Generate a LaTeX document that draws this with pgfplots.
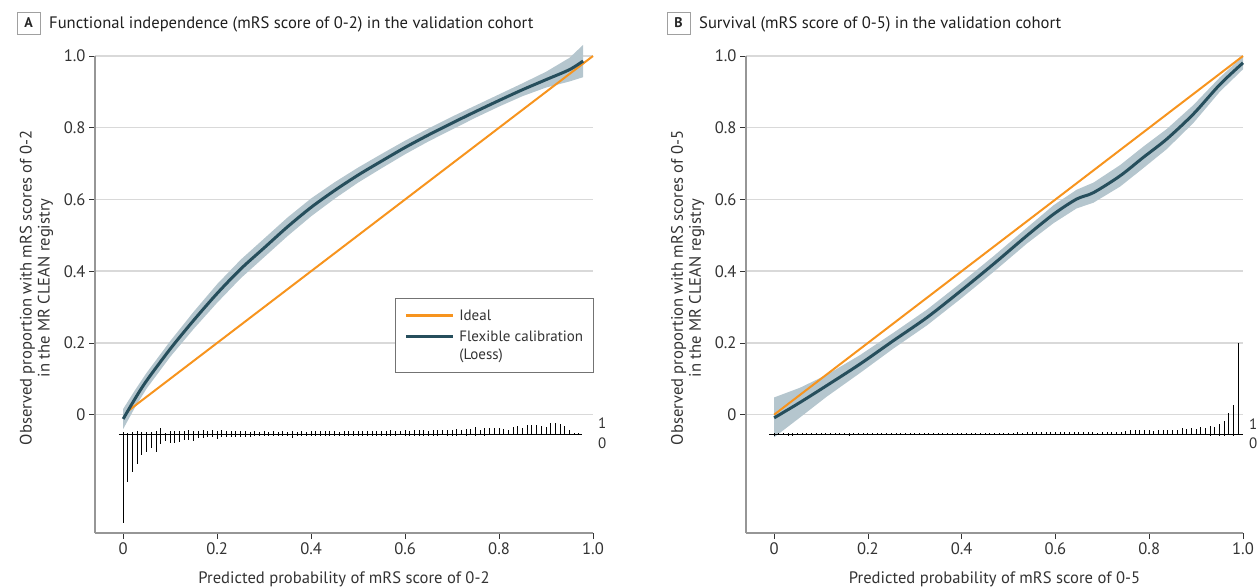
\documentclass[border=0pt]{standalone}
\usepackage{pgfplots}
\pgfplotsset{compat=1.18}
\usepackage{pgfplotstable}
\usepackage{fontspec}
\setmainfont{PT Sans}

\definecolor{idealc}{HTML}{F7941E}
\definecolor{curvec}{HTML}{264E5C}
\definecolor{bandc}{HTML}{B5C6CE}
\definecolor{gridc}{HTML}{D9D9D9}
\definecolor{axisc}{HTML}{969696}
\definecolor{textc}{HTML}{333333}
\definecolor{boxc}{HTML}{A0A0A0}

% Loess curve A
\pgfplotstableread{
x y
0.000 -0.012
0.025 0.044
0.050 0.095
0.100 0.183
0.150 0.263
0.200 0.338
0.250 0.406
0.300 0.465
0.350 0.524
0.400 0.578
0.450 0.625
0.500 0.668
0.550 0.707
0.600 0.745
0.650 0.780
0.700 0.813
0.750 0.845
0.800 0.876
0.850 0.906
0.900 0.934
0.950 0.962
0.979 0.986
}\curA

% confidence band A (upper edge forward, lower edge backward)
\pgfplotstableread{
x y
0.000 0.016
0.025 0.068
0.050 0.117
0.100 0.205
0.150 0.287
0.200 0.364
0.250 0.432
0.300 0.491
0.350 0.550
0.400 0.603
0.450 0.648
0.500 0.689
0.550 0.727
0.600 0.764
0.650 0.798
0.700 0.831
0.750 0.862
0.800 0.893
0.850 0.924
0.900 0.956
0.950 0.995
0.979 1.031
0.979 0.941
0.950 0.929
0.900 0.912
0.850 0.888
0.800 0.859
0.750 0.828
0.700 0.795
0.650 0.762
0.600 0.726
0.550 0.687
0.500 0.647
0.450 0.602
0.400 0.553
0.350 0.498
0.300 0.439
0.250 0.380
0.200 0.312
0.150 0.239
0.100 0.161
0.050 0.073
0.025 0.020
0.000 -0.040
}\bandA

% Loess curve B
\pgfplotstableread{
x y
0.000 -0.009
0.055 0.034
0.112 0.081
0.183 0.141
0.254 0.206
0.326 0.271
0.397 0.344
0.468 0.420
0.539 0.499
0.596 0.559
0.645 0.601
0.681 0.619
0.738 0.666
0.787 0.717
0.837 0.768
0.894 0.838
0.951 0.921
1.000 0.981
}\curB

% confidence band B
\pgfplotstableread{
x y
0.000 0.048
0.055 0.075
0.112 0.111
0.183 0.166
0.254 0.228
0.326 0.293
0.397 0.366
0.468 0.442
0.539 0.521
0.596 0.584
0.645 0.627
0.681 0.647
0.738 0.696
0.787 0.747
0.837 0.796
0.894 0.863
0.951 0.941
1.000 0.999
1.000 0.963
0.951 0.901
0.894 0.813
0.837 0.740
0.787 0.687
0.738 0.636
0.681 0.591
0.645 0.575
0.596 0.534
0.539 0.477
0.468 0.398
0.397 0.322
0.326 0.249
0.254 0.184
0.183 0.116
0.112 0.050
0.055 -0.008
0.000 -0.063
}\bandB

% spike histogram A: x, events (up), non-events (down)
\pgfplotstableread{
x up down
0.00 0.006 0.248
0.01 0.003 0.135
0.02 0.005 0.107
0.03 0.009 0.084
0.04 0.007 0.059
0.05 0.007 0.051
0.06 0.007 0.040
0.07 0.009 0.051
0.08 0.017 0.028
0.09 0.004 0.020
0.10 0.009 0.026
0.11 0.009 0.025
0.12 0.009 0.022
0.13 0.009 0.018
0.14 0.011 0.017
0.15 0.009 0.020
0.16 0.009 0.011
0.17 0.011 0.011
0.18 0.008 0.009
0.19 0.011 0.007
0.20 0.009 0.013
0.21 0.010 0.008
0.22 0.008 0.008
0.23 0.009 0.008
0.24 0.008 0.007
0.25 0.008 0.008
0.26 0.009 0.008
0.27 0.007 0.007
0.28 0.008 0.006
0.29 0.007 0.006
0.30 0.009 0.006
0.31 0.007 0.005
0.32 0.008 0.006
0.33 0.006 0.005
0.34 0.008 0.005
0.35 0.007 0.006
0.36 0.008 0.011
0.37 0.007 0.005
0.38 0.008 0.005
0.39 0.007 0.005
0.40 0.008 0.006
0.41 0.008 0.005
0.42 0.008 0.005
0.43 0.008 0.005
0.44 0.008 0.005
0.45 0.008 0.005
0.46 0.007 0.005
0.47 0.008 0.005
0.48 0.008 0.005
0.49 0.009 0.005
0.50 0.009 0.005
0.51 0.008 0.005
0.52 0.009 0.005
0.53 0.008 0.005
0.54 0.009 0.005
0.55 0.009 0.005
0.56 0.009 0.005
0.57 0.011 0.005
0.58 0.009 0.005
0.59 0.009 0.004
0.60 0.011 0.005
0.61 0.009 0.005
0.62 0.012 0.005
0.63 0.010 0.005
0.64 0.011 0.005
0.65 0.009 0.005
0.66 0.012 0.005
0.67 0.012 0.005
0.68 0.010 0.004
0.69 0.012 0.005
0.70 0.012 0.005
0.71 0.014 0.005
0.72 0.012 0.004
0.73 0.014 0.005
0.74 0.014 0.004
0.75 0.020 0.005
0.76 0.012 0.004
0.77 0.016 0.005
0.78 0.016 0.004
0.79 0.016 0.004
0.80 0.016 0.004
0.81 0.014 0.004
0.82 0.012 0.004
0.83 0.020 0.004
0.84 0.022 0.004
0.85 0.016 0.004
0.86 0.024 0.003
0.87 0.024 0.003
0.88 0.024 0.003
0.89 0.022 0.003
0.90 0.020 0.003
0.91 0.031 0.003
0.92 0.032 0.003
0.93 0.029 0.003
0.94 0.022 0.002
0.95 0.012 0.002
0.96 0.004 0.002
0.97 0.002 0.001
}\spkA

% spike histogram B
\pgfplotstableread{
x up down
0.00 0.002 0.006
0.01 0.002 0.004
0.02 0.002 0.004
0.03 0.002 0.005
0.04 0.002 0.006
0.05 0.002 0.004
0.06 0.003 0.004
0.07 0.002 0.004
0.08 0.002 0.004
0.09 0.002 0.003
0.10 0.002 0.004
0.11 0.002 0.004
0.12 0.002 0.004
0.13 0.003 0.004
0.14 0.002 0.004
0.15 0.002 0.004
0.16 0.003 0.006
0.17 0.002 0.004
0.18 0.002 0.004
0.19 0.003 0.004
0.20 0.002 0.004
0.21 0.003 0.004
0.22 0.002 0.004
0.23 0.003 0.004
0.24 0.002 0.004
0.25 0.003 0.004
0.26 0.003 0.004
0.27 0.002 0.004
0.28 0.003 0.004
0.29 0.003 0.004
0.30 0.003 0.004
0.31 0.003 0.004
0.32 0.003 0.004
0.33 0.003 0.004
0.34 0.003 0.004
0.35 0.003 0.004
0.36 0.003 0.004
0.37 0.003 0.004
0.38 0.003 0.004
0.39 0.003 0.004
0.40 0.004 0.004
0.41 0.003 0.004
0.42 0.004 0.004
0.43 0.003 0.004
0.44 0.004 0.004
0.45 0.004 0.004
0.46 0.004 0.004
0.47 0.004 0.004
0.48 0.004 0.004
0.49 0.004 0.004
0.50 0.004 0.004
0.51 0.004 0.004
0.52 0.005 0.004
0.53 0.004 0.004
0.54 0.005 0.004
0.55 0.005 0.004
0.56 0.006 0.004
0.57 0.005 0.004
0.58 0.006 0.004
0.59 0.006 0.004
0.60 0.006 0.004
0.61 0.005 0.004
0.62 0.006 0.004
0.63 0.006 0.004
0.64 0.006 0.004
0.65 0.006 0.004
0.66 0.005 0.004
0.67 0.007 0.004
0.68 0.006 0.004
0.69 0.004 0.004
0.70 0.006 0.004
0.71 0.006 0.004
0.72 0.006 0.004
0.73 0.006 0.004
0.74 0.006 0.004
0.75 0.009 0.004
0.76 0.010 0.004
0.77 0.010 0.004
0.78 0.010 0.004
0.79 0.010 0.004
0.80 0.012 0.004
0.81 0.008 0.004
0.82 0.010 0.004
0.83 0.012 0.004
0.84 0.010 0.004
0.85 0.012 0.004
0.86 0.012 0.004
0.87 0.017 0.004
0.88 0.014 0.004
0.89 0.018 0.004
0.90 0.014 0.004
0.91 0.020 0.004
0.92 0.018 0.004
0.93 0.023 0.005
0.94 0.020 0.004
0.95 0.028 0.005
0.96 0.037 0.005
0.97 0.058 0.004
0.98 0.082 0.005
0.99 0.253 0.004
}\spkB

\newcommand{\bigfont}{\fontsize{16.6}{18}\selectfont}
\newcommand{\legfont}{\fontsize{15}{17}\selectfont}

\pgfplotsset{
  calstyle/.style={
    scale only axis, height=477pt,
    xmin=-0.06, xmax=1.0, ymin=-0.33, ymax=1.0,
    axis x line*=bottom, axis y line*=left,
    axis line style={draw=axisc, line width=1.2pt, -},
    xtick={0,0.2,0.4,0.6,0.8,1}, xticklabels={0,0.2,0.4,0.6,0.8,1.0},
    ytick={0,0.2,0.4,0.6,0.8,1}, yticklabels={0,0.2,0.4,0.6,0.8,1.0},
    minor tick num=0,
    tick align=outside, major tick length=6pt,
    tick style={draw=black!80, line width=0.8pt},
    ymajorgrids, grid style={draw=gridc, line width=1.4pt},
    /pgf/number format/assume math mode=true,
    ticklabel style={font=\bigfont, text=textc},
    clip=false,
    label style={font=\bigfont, text=textc},
    xlabel style={at={(axis description cs:0.5,-0.1048)}, anchor=base},
    ylabel style={at={(axis description cs:-0.1175,0.514)}, anchor=center, align=center},
  },
  % overlay axis for the spike histograms: its y=0 is the baseline at -0.054
  spkaxis/.style={
    scale only axis, height=477pt, hide axis, clip=false,
    xmin=-0.06, xmax=1.0, ymin=-0.276, ymax=1.054,
  },
}

\begin{document}
\begin{tikzpicture}
\path[use as bounding box] (0pt,0pt) rectangle (1260pt,-587pt);

% ---------------- Panel A ----------------
\begin{axis}[calstyle, width=498pt, at={(95pt,-533pt)}, anchor=south west,
  xlabel={Predicted probability of mRS score of 0-2},
  ylabel={Observed proportion with mRS scores of 0-2\\in the MR CLEAN registry},
]
\addplot[fill=bandc, draw=none] table[x=x, y=y] {\bandA} -- cycle;
\addplot[idealc, line width=2pt] coordinates {(0.01,0.01) (1,1)};
\addplot[curvec, line width=3pt, smooth] table[x=x, y=y] {\curA};
% legend
\draw[draw=black!55, line width=0.8pt, fill=white] (axis cs:0.579,0.117) rectangle (axis cs:1.0,0.3235);
\draw[idealc, line width=2.5pt] (axis cs:0.602,0.276) -- (axis cs:0.702,0.276);
\draw[curvec, line width=2.5pt] (axis cs:0.602,0.2175) -- (axis cs:0.702,0.2175);
\node[anchor=west, inner sep=0pt, font=\legfont, text=textc] at (axis cs:0.715,0.276) {Ideal};
\node[anchor=west, inner sep=0pt, font=\legfont, text=textc] at (axis cs:0.715,0.2175) {Flexible calibration};
\node[anchor=west, inner sep=0pt, font=\legfont, text=textc] at (axis cs:0.715,0.1645) {(Loess)};
\end{axis}
\begin{axis}[spkaxis, width=498pt, at={(95pt,-533pt)}, anchor=south west]
\addplot[black, line width=1pt] coordinates {(-0.009,0) (0.977,0)};
\addplot[ycomb, black, line width=1pt, mark=none] table[x=x, y=up] {\spkA};
\addplot[ycomb, black, line width=1pt, mark=none] table[x=x, y expr=-\thisrow{down}] {\spkA};
\end{axis}

% ---------------- Panel B ----------------
\begin{axis}[calstyle, width=497pt, at={(746pt,-533pt)}, anchor=south west,
  xlabel={Predicted probability of mRS score of 0-5},
  ylabel={Observed proportion with mRS scores of 0-5\\in the MR CLEAN registry},
]
\addplot[fill=bandc, draw=none] table[x=x, y=y] {\bandB} -- cycle;
\addplot[idealc, line width=2pt] coordinates {(0,0) (1,1)};
\addplot[curvec, line width=3pt, smooth] table[x=x, y=y] {\curB};
\end{axis}
\begin{axis}[spkaxis, width=497pt, at={(746pt,-533pt)}, anchor=south west]
\addplot[black, line width=1pt] coordinates {(-0.01,0) (1.0,0)};
\addplot[ycomb, black, line width=1pt, mark=none] table[x=x, y=up] {\spkB};
\addplot[ycomb, black, line width=1pt, mark=none] table[x=x, y expr=-\thisrow{down}] {\spkB};
\end{axis}

% panel titles
\draw[draw=boxc, line width=0.8pt, fill=white] (17pt,-12pt) rectangle (40pt,-34pt);
\node[font=\fontsize{14}{16}\selectfont\bfseries, text=black!85] at (28.5pt,-23pt) {A};
\node[anchor=base west, inner sep=0pt, font=\bigfont, text=black!88] at (49pt,-28.3pt) {Functional independence (mRS score of 0-2) in the validation cohort};
\draw[draw=boxc, line width=0.8pt, fill=white] (667pt,-12pt) rectangle (690pt,-34pt);
\node[font=\fontsize{14}{16}\selectfont\bfseries, text=black!85] at (678.5pt,-23pt) {B};
\node[anchor=base west, inner sep=0pt, font=\bigfont, text=black!88] at (699pt,-28.3pt) {Survival (mRS score of 0-5) in the validation cohort};

% spike histogram labels
\node[anchor=west, inner sep=0pt, font=\legfont, text=textc] at (598pt,-423pt) {1};
\node[anchor=west, inner sep=0pt, font=\legfont, text=textc] at (598pt,-443pt) {0};
\node[anchor=west, inner sep=0pt, font=\legfont, text=textc] at (1249pt,-424pt) {1};
\node[anchor=west, inner sep=0pt, font=\legfont, text=textc] at (1249pt,-443pt) {0};
\end{tikzpicture}
\end{document}
